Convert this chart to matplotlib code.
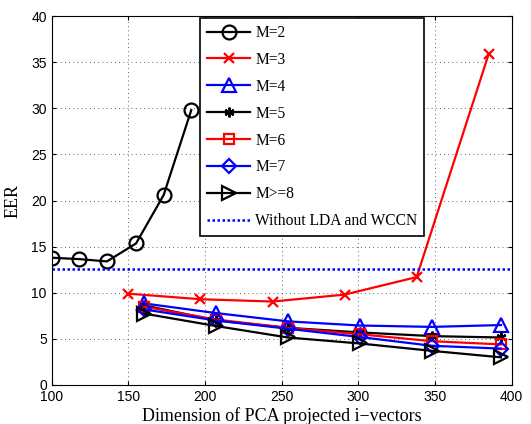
import matplotlib
matplotlib.use("Agg")
import matplotlib.pyplot as plt

x_m2 = [100, 118, 136, 155, 173, 191]
m2 = [13.8, 13.65, 13.4, 15.35, 20.6, 29.8]
x_m3 = [150, 197, 244, 291, 338, 385]
m3 = [9.9, 9.3, 9.05, 9.8, 11.7, 35.9]
x_rest = [160, 207, 254, 301, 348, 393]
m4 = [8.85, 7.8, 6.9, 6.45, 6.3, 6.5]
m5 = [8.65, 7.0, 6.2, 5.7, 5.3, 5.15]
m6 = [8.5, 7.1, 6.2, 5.5, 4.75, 4.4]
m7 = [8.2, 7.0, 6.1, 5.2, 4.25, 3.95]
m8 = [7.75, 6.4, 5.15, 4.5, 3.7, 3.0]
baseline = 12.6

labels = ["M=2", "M=3", "M=4", "M=5", "M=6", "M=7", "M>=8", "Without LDA and WCCN"]

fig = plt.figure(figsize=(5.31, 4.24), dpi=100)
ax = fig.add_axes([0.0974, 0.092, 0.8663, 0.870])

lw = 1.6
ms = 10
mew = 1.6
ax.plot(x_m2, m2, color="black", marker="o", ms=ms, mfc="none", mew=mew, lw=lw, label=labels[0])
ax.plot(x_m3, m3, color="red", marker="x", ms=7, mew=mew, lw=lw, label=labels[1])
ax.plot(x_rest, m4, color="blue", marker="^", ms=ms, mfc="none", mew=mew, lw=lw, label=labels[2])
ax.plot(x_rest, m5, color="black", marker=(6, 2, 0), ms=7, mew=mew, lw=lw, label=labels[3])
ax.plot(x_rest, m6, color="red", marker="s", ms=7, mfc="none", mew=mew, lw=lw, label=labels[4])
ax.plot(x_rest, m7, color="blue", marker="D", ms=7, mfc="none", mew=mew, lw=lw, label=labels[5])
ax.plot(x_rest, m8, color="black", marker=">", ms=ms, mfc="none", mew=mew, lw=lw, label=labels[6])
ax.axhline(baseline, color="blue", ls=(0, (1, 1)), lw=1.8, label=labels[7])

ax.set_xlim(100, 400)
ax.set_ylim(0, 40)
ax.set_xticks(range(100, 401, 50))
ax.set_yticks(range(0, 41, 5))
ax.grid(True, color="black", ls=(0, (1, 4)), lw=0.6, alpha=0.8)
ax.tick_params(direction="in", length=3, labelsize=10, top=True, right=True)
for lab in ax.get_xticklabels() + ax.get_yticklabels():
    lab.set_fontfamily("Liberation Sans")
for s in ax.spines.values():
    s.set_linewidth(0.8)

ax.set_xlabel("Dimension of PCA projected i\u2212vectors", fontfamily="Liberation Serif", fontsize=13, labelpad=2)
ax.set_ylabel("EER", fontfamily="Liberation Serif", fontsize=13, labelpad=7)

leg = ax.legend(loc="upper left", bbox_to_anchor=(0.322, 0.995), borderaxespad=0,
                prop={"family": "Liberation Serif", "size": 11.2},
                frameon=True, fancybox=False, edgecolor="black", framealpha=1, handlelength=2.8,
                labelspacing=0.7, borderpad=0.45, handletextpad=0.3)
leg.get_frame().set_linewidth(1.2)

fig.savefig("out.png", dpi=100)
